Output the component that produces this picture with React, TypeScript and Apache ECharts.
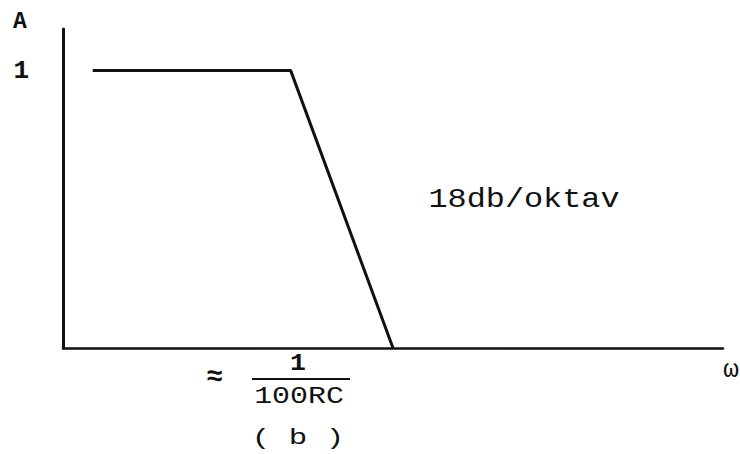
import React, { useEffect, useRef } from "react";
import * as echarts from "echarts";

// Frequency response (piecewise): omega in arbitrary units, amplitude A
const omegaPoints = [0.45, 3.45, 5.0];
const amplitudePoints = [1, 1, 0];
const yTickLabels = ["1"];
const slopeLabel = "18db/oktav";
const cornerNumerator = "1";
const cornerDenominator = "100RC";
const approxSign = "≈";
const captionText = "( b )";
const yName = "A";
const xName = "ω";

const FONT = "'Liberation Mono', 'DejaVu Sans Mono', monospace";

export default function App() {
  const ref = useRef<HTMLDivElement>(null);
  useEffect(() => {
    if (!ref.current) return;
    const chart = echarts.init(ref.current, null, { renderer: "svg" });
    const data = omegaPoints.map((x, i) => [x, amplitudePoints[i]]);
    const txt = (x: number, y: number, text: string, size: number, sx = 1, weight = "bold") => ({
      type: "text",
      x,
      y,
      scaleX: sx,
      style: {
        text,
        x: 0,
        y: 0,
        fill: "#111",
        font: `${weight} ${size}px ${FONT}`,
        textAlign: "center",
        textVerticalAlign: "middle",
        align: "center",
        verticalAlign: "middle",
      },
    });
    chart.setOption({
      animation: false,
      backgroundColor: "#ffffff",
      grid: { left: 63, right: 17, top: 29, bottom: 106 },
      xAxis: {
        type: "value",
        min: 0,
        max: 10,
        axisLine: { show: true, lineStyle: { color: "#111", width: 2.5 } },
        axisTick: { show: false },
        axisLabel: { show: false },
        splitLine: { show: false },
      },
      yAxis: {
        type: "value",
        min: 0,
        max: 1.15,
        interval: 1,
        axisLine: { show: true, lineStyle: { color: "#111", width: 3 } },
        axisTick: { show: false },
        splitLine: { show: false },
        axisLabel: {
          margin: 34,
          color: "#111",
          fontFamily: FONT,
          fontWeight: "bold",
          fontSize: 26,
          formatter: (v: number) => (v === 1 ? yTickLabels[0] : ""),
        },
      },
      graphic: [
        txt(20, 22, yName, 23),
        txt(524, 200, slopeLabel, 27, 1.18, "normal"),
        txt(215, 377, approxSign, 28),
        txt(298, 364, cornerNumerator, 24, 1.1),
        {
          type: "line",
          shape: { x1: 252, y1: 379, x2: 350, y2: 379 },
          style: { stroke: "#111", lineWidth: 2 },
        },
        txt(299, 397, cornerDenominator, 23, 1.3, "normal"),
        txt(298, 438, captionText, 22, 1.4, "normal"),
        txt(731, 370, xName, 26, 1, "normal"),
      ],
      series: [
        {
          type: "line",
          data,
          symbol: "none",
          lineStyle: { color: "#111", width: 3 },
        },
      ],
    });
    return () => chart.dispose();
  }, []);
  return (
    <div
      ref={ref}
      style={{ position: "fixed", left: 0, top: 0, width: 740, height: 454 }}
    />
  );
}
